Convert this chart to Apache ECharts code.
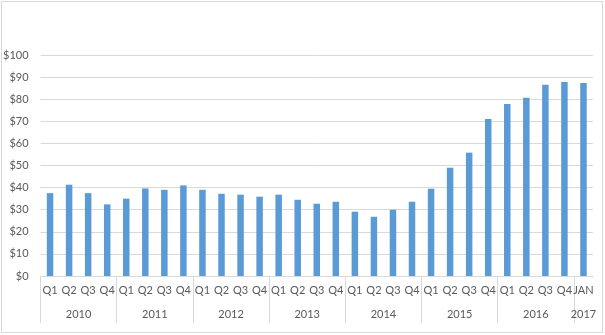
<!DOCTYPE html>
<html>
<head>
<meta charset="utf-8">
<script src="https://cdn.jsdelivr.net/npm/echarts@6/dist/echarts.min.js"></script>
<style>
  html, body { margin: 0; padding: 0; background: #fff; }
  #chart { width: 605px; height: 335px; }
  #frame { position: absolute; left: 1px; top: 1px; width: 600px; height: 330px; border: 1px solid #d9d9d9; pointer-events: none; }
</style>
</head>
<body>
<div id="chart"></div>
<div id="frame"></div>
<script>
// Period labels along the category axis and the year each period belongs to
const periodLabels = [
  'Q1','Q2','Q3','Q4', 'Q1','Q2','Q3','Q4', 'Q1','Q2','Q3','Q4',
  'Q1','Q2','Q3','Q4', 'Q1','Q2','Q3','Q4', 'Q1','Q2','Q3','Q4',
  'Q1','Q2','Q3','Q4', 'JAN'
];
const periodYears = [
  '2010','2010','2010','2010', '2011','2011','2011','2011', '2012','2012','2012','2012',
  '2013','2013','2013','2013', '2014','2014','2014','2014', '2015','2015','2015','2015',
  '2016','2016','2016','2016', '2017'
];
// Price per period, dollars
const prices = [
  37.5, 41.3, 37.5, 32.4,
  35.0, 39.6, 39.0, 41.0,
  39.0, 37.2, 36.8, 35.9,
  36.8, 34.5, 32.7, 33.6,
  29.1, 26.8, 30.0, 33.6,
  39.5, 49.0, 55.8, 71.0,
  77.8, 80.6, 86.5, 87.8, 87.3
];
// Dollar axis tick values
const yTicks = [0, 10, 20, 30, 40, 50, 60, 70, 80, 90, 100];

// Year groups: start index, span and centre in category units
const groups = [];
periodYears.forEach((y, i) => {
  const g = groups[groups.length - 1];
  if (g && g.year === y) g.count++;
  else groups.push({ year: y, start: i, count: 1 });
});
const groupEdges = groups.map(g => g.start);
const groupCentres = groups.map(g => g.start + g.count / 2);

const textColor = '#595959';
const lineColor = '#d9d9d9';
const fontFamily = 'Lato, "Open Sans", sans-serif';

const chart = echarts.init(document.getElementById('chart'), null, { renderer: 'canvas' });
chart.setOption({
  animation: false,
  grid: { left: 39, right: 12, top: 55, bottom: 59, containLabel: false },
  xAxis: [
    {
      type: 'category',
      data: periodLabels,
      boundaryGap: true,
      axisLine: { show: true, lineStyle: { color: lineColor, width: 1 } },
      axisTick: { show: false },
      axisLabel: { interval: 0, color: textColor, fontFamily, fontSize: 11, margin: 9 },
      splitLine: { show: false }
    },
    {
      type: 'value',
      position: 'bottom',
      min: 0,
      max: periodLabels.length,
      axisLine: { show: false },
      axisTick: {
        show: true, inside: false, length: 47,
        customValues: groupEdges,
        lineStyle: { color: lineColor, width: 1 }
      },
      axisLabel: {
        customValues: groupCentres,
        color: textColor, fontFamily, fontSize: 11, margin: 33,
        formatter: v => {
          const k = groupCentres.indexOf(v);
          return k >= 0 ? groups[k].year : '';
        }
      },
      splitLine: { show: false }
    }
  ],
  yAxis: {
    type: 'value',
    min: yTicks[0],
    max: yTicks[yTicks.length - 1],
    interval: yTicks[1] - yTicks[0],
    axisLine: { show: false },
    axisTick: { show: false },
    axisLabel: { color: textColor, fontFamily, fontSize: 11, margin: 12, formatter: v => '$' + v },
    splitLine: { lineStyle: { color: lineColor, width: 1 } }
  },
  series: [{
    type: 'bar',
    xAxisIndex: 0,
    data: prices,
    barWidth: 6.5,
    itemStyle: { color: '#5b9bd5' }
  }]
});
</script>
</body>
</html>
